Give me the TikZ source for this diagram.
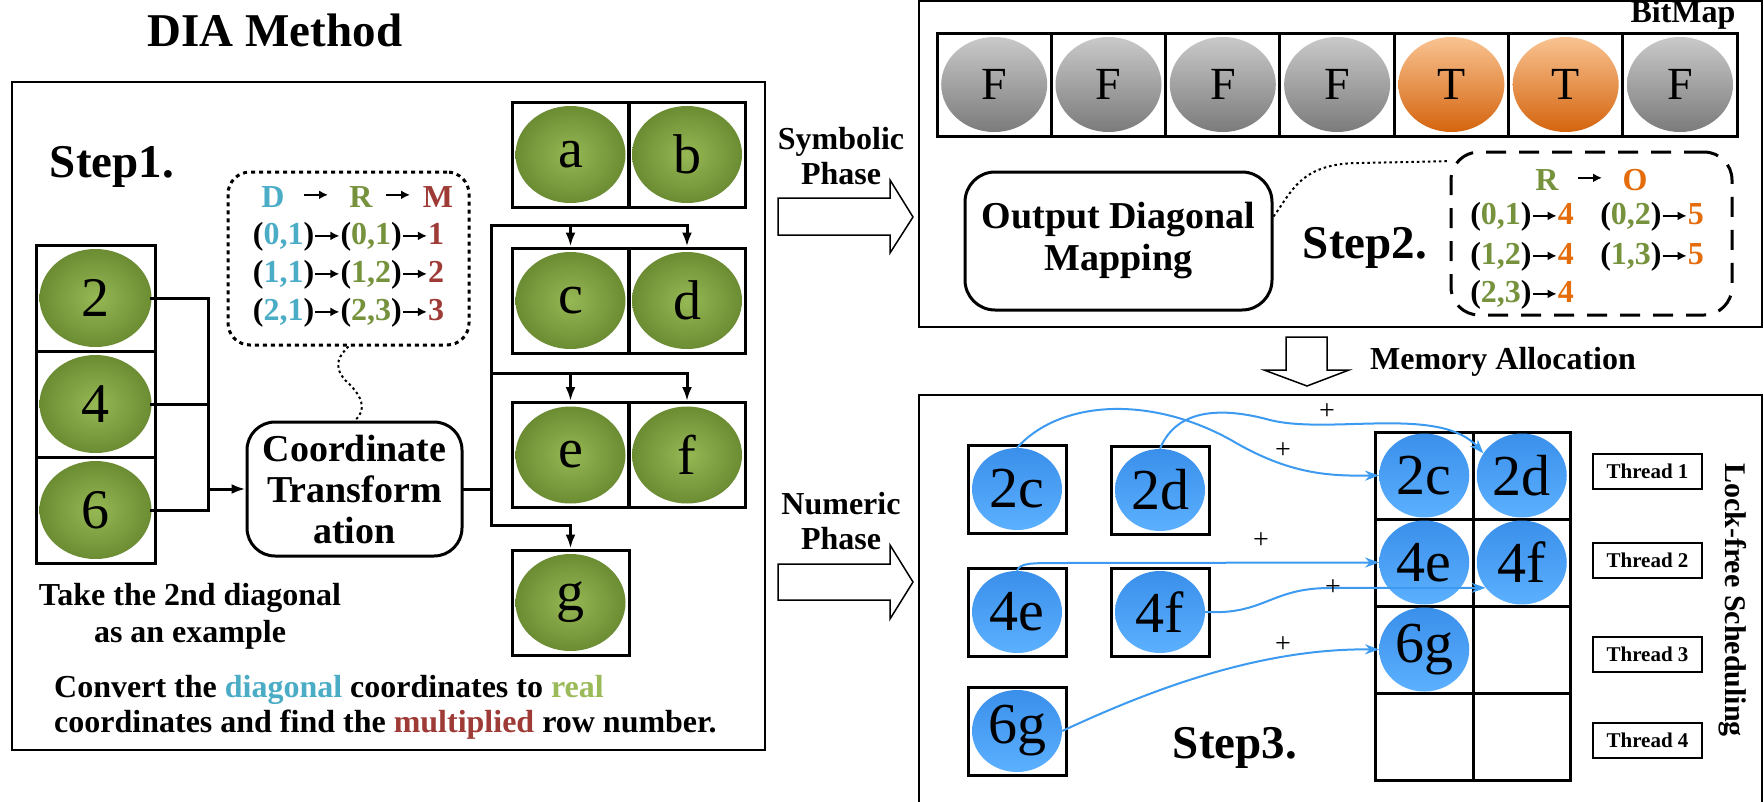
\documentclass[tikz,border=0pt]{standalone}
\usepackage{fontspec}
\setmainfont{Liberation Serif}
\usetikzlibrary{shapes.geometric,arrows.meta}
\definecolor{cD}{HTML}{4BACC6}
\definecolor{cR}{HTML}{76923C}
\definecolor{cRl}{HTML}{9BBB59}
\definecolor{cM}{HTML}{9E3B36}
\definecolor{cO}{HTML}{E46C0A}
\definecolor{gin}{HTML}{96B854}
\definecolor{gout}{HTML}{6C8C33}
\definecolor{gyt}{HTML}{C9C9C9}
\definecolor{gyb}{HTML}{7B7B7B}
\definecolor{ort}{HTML}{F9C391}
\definecolor{orb}{HTML}{D4640E}
\definecolor{blt}{HTML}{3A8FEA}
\definecolor{blb}{HTML}{5CB0FF}
\definecolor{bline}{HTML}{3C9AF0}
\newcommand\rarr{\tikz[baseline=-0.6ex]\draw[line width=2.2pt,-{Latex[length=9pt,width=9pt]}] (0pt,0pt) -- (24pt,0pt);}
\begin{document}
\begin{tikzpicture}[x=1pt,y=-1pt,
  frame/.style={draw, line width=2pt},
  gcell/.style={draw, line width=3pt, inner sep=0pt, minimum width=117pt, minimum height=105pt},
  gell/.style={ellipse, inner sep=0pt, minimum width=110pt, minimum height=97pt, inner color=gin, outer color=gout, font=\fontsize{56}{60}\selectfont},
  bcell/.style={draw, line width=3pt, inner sep=0pt, minimum width=114.3pt, minimum height=103pt},
  gyell/.style={ellipse, inner sep=0pt, minimum width=106pt, minimum height=95pt, top color=gyt, bottom color=gyb, font=\fontsize{46}{50}\selectfont},
  orell/.style={gyell, top color=ort, bottom color=orb},
  sbox/.style={draw, line width=3pt, inner sep=0pt, minimum width=98pt, minimum height=88pt},
  gridc/.style={draw, line width=3pt, inner sep=0pt, minimum width=97.5pt, minimum height=87pt},
  blell/.style={ellipse, inner sep=0pt, minimum width=90pt, minimum height=82pt, top color=blt, bottom color=blb, font=\fontsize{58}{60}\selectfont},
  conn/.style={line width=3pt, line cap=rect},
  carr/.style={line width=3pt, -{Latex[length=14pt,width=10pt]}},
  bl/.style={draw=bline, line width=2pt, -{Stealth[length=14pt,width=10pt]}},
  lbl/.style={font=\bfseries\fontsize{32}{36}\selectfont, inner sep=0pt},
  bigl/.style={font=\bfseries\fontsize{47}{50}\selectfont, inner sep=0pt},
  thr/.style={draw, line width=1.5pt, minimum width=109pt, minimum height=35pt, inner sep=0pt, font=\bfseries\fontsize{21}{24}\selectfont},
  plus/.style={font=\fontsize{28}{30}\selectfont, inner sep=0pt},
  blockarr/.style={draw, line width=1.5pt, fill=white, line join=miter},
  dotl/.style={line width=2pt, dash pattern=on 2.5pt off 3pt}
]
\useasboundingbox (0,0) rectangle (1764,801);
\fill[white] (0,0) rectangle (1764,801);

% ---------------- left part ----------------
\node[bigl] (title) at (275,30) {DIA Method};
\draw[frame] (12,82) rectangle (765,750);
\node[bigl] (step1) at (112,167) {Step1.};

% column 2 4 6
\node[draw, line width=3pt, inner sep=0pt, minimum width=119pt, minimum height=106pt] (c2) at (95.5,298) {};
\node[draw, line width=3pt, inner sep=0pt, minimum width=119pt, minimum height=106pt] (c4) at (95.5,404) {};
\node[draw, line width=3pt, inner sep=0pt, minimum width=119pt, minimum height=106pt] (c6) at (95.5,510) {};
\node[gell, minimum width=112pt, minimum height=98pt] (e2) at (c2) {2};
\node[gell, minimum width=112pt, minimum height=98pt] (e4) at (c4) {4};
\node[gell, minimum width=112pt, minimum height=98pt] (e6) at (c6) {6};

% a..g
\node[gcell] (ca) at (570.5,154.5) {};
\node[gcell] (cb) at (687,154.5) {};
\node[gcell] (cc) at (570.5,300.5) {};
\node[gcell] (cd) at (687,300.5) {};
\node[gcell] (ce) at (570.5,455) {};
\node[gcell] (cf) at (687,455) {};
\node[gcell] (cg) at (570.5,602.5) {};
\node[gell] (ea) at (ca) {a};
\node[gell] (eb) at (cb) {b};
\node[gell] (ec) at (cc) {c};
\node[gell] (ed) at (cd) {d};
\node[gell] (ee) at (ce) {e};
\node[gell] (ef) at (cf) {f};
\node[gell] (eg) at (cg) {g};

% coordinate transformation
\node[draw, line width=3pt, rounded corners=28pt, minimum width=215pt, minimum height=134pt, inner sep=0pt, align=center, font=\bfseries\fontsize{38}{41}\selectfont] (ct) at (354.5,489) {Coordinate\\Transform\\ation};

% connectors left
\coordinate (j2) at (208,298);
\coordinate (j4) at (208,404);
\coordinate (j6) at (208,510);
\coordinate (jm) at (208,489);
\draw[conn] (e2.east) -- (j2) -- (j6) -- (e6.east);
\draw[conn] (e4.east) -- (j4);
\draw[carr] (jm) -- (ct.west);

\coordinate (tc) at (491,489);
\coordinate (t1) at (491,225);
\coordinate (t2) at (491,373);
\coordinate (t3) at (491,525);
\draw[conn] (ct.east) -- (tc);
\draw[conn] (t1) -- (t3);
\draw[carr] (t1) -| (cd.north);
\draw[carr] (t1 -| cc.north) -- (cc.north);
\draw[carr] (t2) -| (cf.north);
\draw[carr] (t2 -| ce.north) -- (ce.north);
\draw[carr] (t3) -| (cg.north);

% dotted mapping box
\node[draw, line width=3pt, dash pattern=on 4pt off 4pt, rounded corners=22pt, minimum width=241pt, minimum height=173pt, inner sep=0pt] (dm) at (348.5,258.5) {};
\node[lbl, text=cD] (hD) at (273,197) {D};
\node[lbl] (ha1) at (316,197) {\rarr};
\node[lbl, text=cR] (hR) at (361,197) {R};
\node[lbl] (ha2) at (398,197) {\rarr};
\node[lbl, text=cM] (hM) at (438,197) {M};
\node[lbl] (r1) at (348.5,237) {(\textcolor{cD}{0,1})\rarr(\textcolor{cR}{0,1})\rarr\textcolor{cM}{1}};
\node[lbl] (r2) at (348.5,275) {(\textcolor{cD}{1,1})\rarr(\textcolor{cR}{1,2})\rarr\textcolor{cM}{2}};
\node[lbl] (r3) at (348.5,313) {(\textcolor{cD}{2,1})\rarr(\textcolor{cR}{2,3})\rarr\textcolor{cM}{3}};
\draw[dotl] (dm.south) .. controls (340,355) and (332,365) .. (345,380) .. controls (362,395) and (368,410) .. (ct.north);

\node[lbl, align=center, font=\bfseries\fontsize{32}{37}\selectfont] (take) at (190,616) {Take the 2nd diagonal\\as an example};
\node[lbl, anchor=base west] (cv1) at (54,697) {Convert the \textcolor{cD}{diagonal} coordinates to \textcolor{cRl}{real}};
\node[lbl, anchor=base west] (cv2) at (54,732) {coordinates and find the \textcolor{cM}{multiplied} row number.};

% ---------------- middle arrows ----------------
\node[lbl, align=center, font=\bfseries\fontsize{32}{35}\selectfont] (sym) at (841,156) {Symbolic\\Phase};
\draw[blockarr] (778,198) -- (890,198) -- (890,180) -- (913,217) -- (890,253) -- (890,235) -- (778,235) -- cycle;
\node[lbl, align=center, font=\bfseries\fontsize{32}{35}\selectfont] (num) at (841,521) {Numeric\\Phase};
\draw[blockarr] (778,564) -- (890,564) -- (890,545) -- (913,582) -- (890,619) -- (890,600) -- (778,600) -- cycle;

% ---------------- top right ----------------
\draw[frame] (919,1) rectangle (1762,327);
\node[lbl] (bitmap) at (1683,15) {BitMap};
\foreach \i/\x/\t/\s in {1/994.2/F/gyell,2/1108.5/F/gyell,3/1222.8/F/gyell,4/1337.1/F/gyell,5/1451.4/T/orell,6/1565.7/T/orell,7/1680.0/F/gyell}{
  \node[bcell] (bc\i) at (\x,84.5) {};
  \node[\s] (be\i) at (bc\i) {\t};
}
\node[draw, line width=3pt, rounded corners=30pt, minimum width=307pt, minimum height=138pt, inner sep=0pt, align=center, font=\bfseries\fontsize{38}{42}\selectfont] (odm) at (1118.5,241) {Output Diagonal\\Mapping};
\node[bigl] (step2) at (1365,248) {Step2.};
\node[draw, line width=3pt, dash pattern=on 20pt off 13pt, rounded corners=28pt, minimum width=281pt, minimum height=163pt, inner sep=0pt] (sm) at (1591.5,233.5) {};
\node[lbl, text=cR] (sR) at (1547,180) {R};
\node[lbl] (sa) at (1590,180) {\rarr};
\node[lbl, text=cO] (sO) at (1635,180) {O};
\node[lbl] (s1) at (1522,217) {(\textcolor{cR}{0,1})\rarr\textcolor{cO}{4}};
\node[lbl] (s2) at (1652,217) {(\textcolor{cR}{0,2})\rarr\textcolor{cO}{5}};
\node[lbl] (s3) at (1522,257) {(\textcolor{cR}{1,2})\rarr\textcolor{cO}{4}};
\node[lbl] (s4) at (1652,257) {(\textcolor{cR}{1,3})\rarr\textcolor{cO}{5}};
\node[lbl] (s5) at (1522,295) {(\textcolor{cR}{2,3})\rarr\textcolor{cO}{4}};
\draw[dotl] (odm.9) .. controls (1292,192) and (1300,163) .. (1360,163) -- (sm.153);

% memory allocation
\draw[blockarr] (1286,337) -- (1327,337) -- (1327,370) -- (1349,370) -- (1307,386) -- (1264,370) -- (1286,370) -- cycle;
\node[lbl] (mem) at (1503,362) {Memory Allocation};

% ---------------- bottom right ----------------
\draw[frame] (919,395) rectangle (1762,812);
\node[sbox] (s2c) at (1017,489) {};
\node[sbox] (s2d) at (1160,490) {};
\node[sbox] (s4e) at (1017,612) {};
\node[sbox] (s4f) at (1160,612) {};
\node[sbox] (s6g) at (1017,731) {};
\node[blell] (b2c) at (s2c) {2c};
\node[blell] (b2d) at (s2d) {2d};
\node[blell] (b4e) at (s4e) {4e};
\node[blell] (b4f) at (s4f) {4f};
\node[blell] (b6g) at (s6g) {6g};

\node[gridc] (g11) at (1424.25,475.5) {};
\node[gridc] (g12) at (1521.75,475.5) {};
\node[gridc] (g21) at (1424.25,562.5) {};
\node[gridc] (g22) at (1521.75,562.5) {};
\node[gridc] (g31) at (1424.25,649.5) {};
\node[gridc] (g32) at (1521.75,649.5) {};
\node[gridc] (g41) at (1424.25,736.5) {};
\node[gridc] (g42) at (1521.75,736.5) {};
\node[blell, minimum width=90pt, minimum height=84pt] (G2c) at (g11) {2c};
\node[blell, minimum width=90pt, minimum height=84pt] (G2d) at (g12) {2d};
\node[blell, minimum width=90pt, minimum height=84pt] (G4e) at (g21) {4e};
\node[blell, minimum width=90pt, minimum height=84pt] (G4f) at (g22) {4f};
\node[blell, minimum width=90pt, minimum height=84pt] (G6g) at (g31) {6g};

\node[thr] (th1) at (1647.5,471.5) {Thread 1};
\node[thr] (th2) at (1647.5,560.5) {Thread 2};
\node[thr] (th3) at (1647.5,654.5) {Thread 3};
\node[thr] (th4) at (1647.5,740.5) {Thread 4};
\node[lbl, rotate=-90, font=\bfseries\fontsize{30}{34}\selectfont] (lfs) at (1733,600) {Lock-free Scheduling};
\node[bigl] (step3) at (1235,748) {Step3.};

% blue arrows
\draw[bl] (b2c.north) .. controls (1060,400) and (1150,395) .. (1231,440) .. controls (1290,475) and (1330,476) .. (G2c.west);
\draw[bl] (b2d.north) .. controls (1175,412) and (1215,405) .. (1270,420) .. controls (1330,435) and (1440,405) .. (G2d.150);
\draw[bl] (b4e.north) .. controls (1020,563) and (1030,563) .. (1060,563) -- (G4e.west);
\draw[bl] (b4f.east) .. controls (1265,615) and (1270,588) .. (1330,588) -- (G4f.215);
\draw[bl] (b6g.east) .. controls (1150,690) and (1260,648) .. (G6g.west);
\node[plus] (p1) at (1283,451) {+};
\node[plus] (p2) at (1327,412) {+};
\node[plus] (p3) at (1261,541) {+};
\node[plus] (p4) at (1333,588) {+};
\node[plus] (p5) at (1283,645) {+};
\end{tikzpicture}
\end{document}
